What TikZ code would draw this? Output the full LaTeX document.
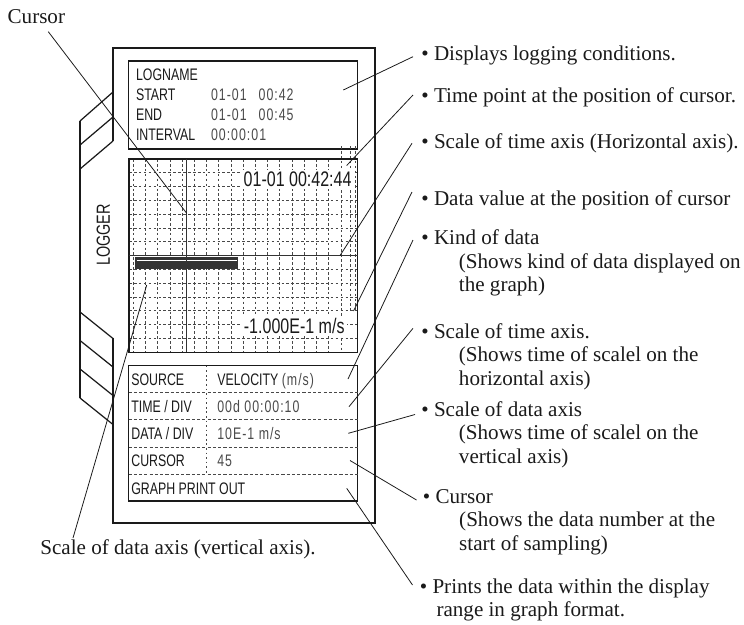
\documentclass[tikz,border=0pt]{standalone}
\usepackage{fontspec}
\setmainfont{Liberation Serif}
\newfontfamily\panelfont[FakeStretch=0.74]{Liberation Sans}
\newfontfamily\valuefont[FakeStretch=0.74,LetterSpace=6]{Liberation Sans}
\newfontfamily\readoutfont[FakeStretch=0.76]{Liberation Sans}
\usetikzlibrary{calc}
\definecolor{Ink}{HTML}{1A1A1A}
\definecolor{Value}{HTML}{4A4A4A}
\definecolor{Trace}{HTML}{333333}

\begin{document}
\begin{tikzpicture}[x=0.2mm,y=-0.2mm,every node/.style={text=Ink},
  body/.style={draw=Ink,line width=0.7pt},
  panel/.style={draw=Ink,line width=0.6pt},
  gridline/.style={draw=Ink!80,line width=0.35pt,dash pattern=on 1.5pt off 1.3pt},
  rowrule/.style={draw=Ink!80,line width=0.4pt,dash pattern=on 1.8pt off 1.2pt},
  colrule/.style={draw=Ink!80,line width=0.4pt,dash pattern=on 1pt off 1.6pt},
  leader/.style={draw=Ink,line width=0.45pt},
  note/.style={anchor=base west,align=left,inner ysep=0pt,inner xsep=4.55pt,font=\fontsize{12}{13.3}\selectfont},
  cell/.style={anchor=base west,inner sep=0pt,font=\panelfont\fontsize{9.5}{11}\selectfont},
  val/.style={cell,text=Value,font=\valuefont\fontsize{9.5}{11}\selectfont},
  readout/.style={anchor=base east,fill=white,inner sep=1.2pt,font=\readoutfont\fontsize{12}{14}\selectfont}]
  \useasboundingbox (0,0) rectangle (744,624);

  % Logger body with its folded spine.
  \draw[body] (113,141) -- (113,48) -- (375,48) -- (375,523) -- (113,523) -- (113,338);
  \draw[body] (80,121) -- (80,398);
  \draw[body] (113,92) -- (80,121);
  \draw[body] (113,117) -- (80,145);
  \draw[body] (113,141) -- (80,169);
  \foreach \y in {312,340.5,369,398} {
    \draw[body] (80,\y) -- (113,\y+26.5);
  }
  \node[font=\readoutfont\fontsize{10.8}{12}\selectfont,rotate=90,inner sep=0pt] (logger) at (103.3,235) {LOGGER};

  % Logging conditions.
  \draw[panel] (128.5,61) rectangle (357.5,149);
  \node[cell] (logname) at (135.7,80.7) {LOGNAME};
  \node[cell] (start) at (135.7,100.7) {START};
  \node[cell] (end) at (135.7,120.7) {END};
  \node[cell] (interval) at (135.7,140.7) {INTERVAL};
  \node[val] (startday) at (210.7,100.7) {01-01};
  \node[val] (starttime) at (258.3,100.7) {00:42};
  \node[val] (endday) at (210.7,120.7) {01-01};
  \node[val] (endtime) at (258.3,120.7) {00:45};
  \node[val] (step) at (210.7,140.7) {00:00:01};

  % Graph window.
  \foreach \k in {1,...,13} {
    \draw[gridline] (129,159+13.8*\k) -- (357.5,159+13.8*\k);
  }
  \foreach \k in {0,...,16} {
    \draw[gridline] ({133.3+12.2*\k},159) -- ({133.3+12.2*\k},352.2);
  }
  \draw[gridline] (341,146) -- (341,352.2);
  \draw[gridline] (350,146) -- (350,312);
  \draw[gridline] (355,146) -- (355,312);
  \draw[panel] (129,159) rectangle (357.5,352.2);
  \draw[Trace,line width=0.7pt] (129,255.6) -- (357.5,255.6);
  \fill[Trace] (135,256.7) rectangle (238.3,269.3);
  \draw[white,line width=0.35pt] (136.5,260) -- (237,260);
  \draw[Trace,line width=0.9pt] (186.7,159) -- (186.7,352.2);
  \node[readout] (stamp) at (354,186.7) {01-01 00:42:44};
  \node[readout] (reading) at (347,333.3) {-1.000E-1 m/s};

  % Settings table.
  \draw[panel] (128.5,365.7) rectangle (357.5,501);
  \foreach \y in {392.3,419.3,447,474.3} {
    \draw[rowrule] (128.5,\y) -- (357.5,\y);
  }
  \draw[colrule] (206.7,365.7) -- (206.7,474.3);
  \node[cell] (source) at (131,385) {SOURCE};
  \node[cell] (timediv) at (131,412) {TIME / DIV};
  \node[cell] (datadiv) at (131,439.3) {DATA / DIV};
  \node[cell] (cursor) at (131,466.7) {CURSOR};
  \node[cell] (print) at (131,494) {GRAPH PRINT OUT};
  \node[cell] (velocity) at (217,385) {VELOCITY {\valuefont\color{Value}(m/s)}};
  \node[val] (timeval) at (217,412) {00d 00:00:10};
  \node[val] (dataval) at (217,439.3) {10E-1 m/s};
  \node[val] (cursorval) at (217,466.7) {45};

  % Callouts (multi-line notes sit on the baseline of their last line).
  \node[note,inner xsep=0pt] (cursorlbl) at (7.3,23.3) {Cursor};
  \node[note,inner xsep=0pt] (datascale) at (40,554) {Scale of data axis (vertical axis).};
  \node[note] (logcond) at (413,60.7) {\textbullet\ Displays logging conditions.};
  \node[note] (timept) at (413,102.7) {\textbullet\ Time point at the position of cursor.};
  \node[note] (timescale) at (413,148.3) {\textbullet\ Scale of time axis (Horizontal axis).};
  \node[note] (datapt) at (413,205) {\textbullet\ Data value at the position of cursor};
  \node[note] (kind) at (413,291.7) {\textbullet\ Kind of data\\\hspace*{21.4pt}(Shows kind of data displayed on\\\hspace*{21.4pt}the graph)};
  \node[note] (timenote) at (413,385) {\textbullet\ Scale of time axis.\\\hspace*{21.4pt}(Shows time of scalel on the\\\hspace*{21.4pt}horizontal axis)};
  \node[note] (datanote) at (413,463.2) {\textbullet\ Scale of data axis\\\hspace*{21.4pt}(Shows time of scalel on the\\\hspace*{21.4pt}vertical axis)};
  \node[note] (cursornote) at (414.5,550) {\textbullet\ Cursor\\\hspace*{20.7pt}(Shows the data number at the\\\hspace*{20.7pt}start of sampling)};
  \node[note] (printnote) at (411.5,616.7) {\textbullet\ Prints the data within the display\\\hspace*{9.5pt}range in graph format.};

  \coordinate (info-pt) at (343.3,90);
  \coordinate (stamp-pt) at (346.7,165.5);
  \coordinate (axis-pt) at (340,255.6);
  \coordinate (reading-pt) at (353.5,311);
  \coordinate (source-pt) at (348,379);
  \coordinate (timediv-pt) at (349,406.7);
  \coordinate (datadiv-pt) at (348.3,433.3);
  \coordinate (cursor-pt) at (350,460.5);
  \coordinate (print-pt) at (346.7,488.3);
  \coordinate (cursorline-pt) at (186.7,213.3);
  \coordinate (grid-pt) at (146.7,285);

  \draw[leader] ($(cursorlbl.base west)+(41,8.4)$) -- (cursorline-pt);
  \draw[leader] (grid-pt) -- ($(datascale.base west)+(33,-16)$);
  \draw[leader] (info-pt) -- ($(logcond.base west)+(0,-4)$);
  \draw[leader] (stamp-pt) -- ($(timept.base west)+(0,-7.7)$);
  \draw[leader] (axis-pt) -- ($(timescale.base west)+(-1,-5)$);
  \draw[leader] (reading-pt) -- ($(datapt.base west)+(-1,-13)$);
  \draw[leader] (source-pt) -- ($(kind.base west)+(0,-51.7)$);
  \draw[leader] (timediv-pt) -- ($(timenote.base west)+(0,-56.7)$);
  \draw[leader] (datadiv-pt) -- ($(datanote.base west)+(2,-48.7)$);
  \draw[leader] (cursor-pt) -- ($(cursornote.base west)+(2,-50)$);
  \draw[leader] (print-pt) -- ($(printnote.base west)+(1,-31.7)$);
\end{tikzpicture}
\end{document}
